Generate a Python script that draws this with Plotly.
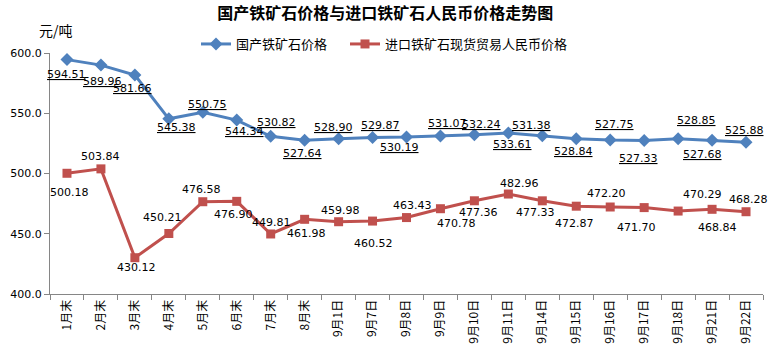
import plotly.graph_objects as go

categories = ["1月末", "2月末", "3月末", "4月末", "5月末", "6月末", "7月末", "8月末",
              "9月1日", "9月7日", "9月8日", "9月9日", "9月10日", "9月11日", "9月14日",
              "9月15日", "9月16日", "9月17日", "9月18日", "9月21日", "9月22日"]
domestic = [594.51, 589.96, 581.66, 545.38, 550.75, 544.34, 530.82, 527.64, 528.90, 529.87,
            530.19, 531.07, 532.24, 533.61, 531.38, 528.84, 527.75, 527.33, 528.85, 527.68, 525.88]
imported = [500.18, 503.84, 430.12, 450.21, 476.58, 476.90, 449.81, 461.98, 459.98, 460.52,
            463.43, 470.78, 477.36, 482.96, 477.33, 472.87, 472.20, 471.70, 468.84, 470.29, 468.28]
series_names = ["国产铁矿石价格", "进口铁矿石现货贸易人民币价格"]
y_ticks = [400, 450, 500, 550, 600]

# label offsets in pixels (dx right, dy down), as placed in the original chart
dom_dx = [0, 2, -2, 8, 5, 8, 6, -2, -5, 8, -7, 7, 7, 4, -11, -3, 4, -6, 18, -10, -2]
dom_dy = [15, 16, 13, 9, -8, 11, -14, 13, -11, -12, 10, -13, -10, 11, -10, 13, -16, 18, -18, 14, -12]
imp_dx = [3, 0, 2, -6, -1, -3, 1, 2, 2, 1, 6, 16, 4, 11, -7, -2, -4, -8, 39, -10, 2]
imp_dy = [19, -12, 10, -16, -12, 13, -11, 14, -11, 22, -12, 15, 12, -11, 12, 17, -14, 20, 16, -15, -12]

label_font = dict(family="DejaVu Sans", size=11, color="#000000")

fig = go.Figure()
fig.add_trace(go.Scatter(
    x=categories, y=domestic, name=series_names[0], mode="lines+markers",
    line=dict(color="#4F81BD", width=3),
    marker=dict(symbol="diamond", size=10, color="#4F81BD"),
    legend="legend",
))
fig.add_trace(go.Scatter(
    x=categories, y=imported, name=series_names[1], mode="lines+markers",
    line=dict(color="#C0504D", width=3),
    marker=dict(symbol="square", size=9, color="#C0504D"),
    legend="legend2",
))

annotations = [dict(text="元/吨", xref="paper", yref="paper", x=-0.018, y=1.095,
                    xanchor="left", yanchor="middle", showarrow=False,
                    font=dict(family="Noto Sans CJK SC", size=14, color="#000000"))]
for c, v, dx, dy in zip(categories, domestic, dom_dx, dom_dy):
    annotations.append(dict(x=c, y=v, text="<u>%.2f</u>" % v, showarrow=False,
                            xanchor="center", yanchor="middle", xshift=dx, yshift=-dy,
                            font=label_font))
for c, v, dx, dy in zip(categories, imported, imp_dx, imp_dy):
    annotations.append(dict(x=c, y=v, text="%.2f" % v, showarrow=False,
                            xanchor="center", yanchor="middle", xshift=dx, yshift=-dy,
                            font=label_font))

leg_font = dict(family="Noto Sans CJK SC", size=13, color="#000000")
fig.update_layout(
    width=775, height=356,
    margin=dict(l=50, r=12, t=53, b=62, autoexpand=False),
    paper_bgcolor="white", plot_bgcolor="white",
    title=dict(text="<b>国产铁矿石价格与进口铁矿石人民币价格走势图</b>",
               xref="container", yref="container",
               x=0.497, xanchor="center", y=1 - 13 / 356, yanchor="middle",
               font=dict(family="Noto Sans CJK SC", size=16, color="#000000")),
    legend=dict(orientation="h", xref="container", yref="container",
                x=196 / 775, xanchor="left", y=1 - 44 / 356, yanchor="middle",
                font=leg_font, bgcolor="rgba(0,0,0,0)"),
    legend2=dict(orientation="h", xref="container", yref="container",
                 x=345 / 775, xanchor="left", y=1 - 44 / 356, yanchor="middle",
                 font=leg_font, bgcolor="rgba(0,0,0,0)"),
    showlegend=True,
    annotations=annotations,
)
fig.update_xaxes(
    type="category", range=[-0.5, len(categories) - 0.5], tickangle=-90,
    showgrid=False, showline=True, linecolor="#868686",
    linewidth=1, ticks="outside", tickson="boundaries", ticklen=5, tickcolor="#868686",
    automargin=False,
    tickfont=dict(family="Noto Sans CJK SC", size=12, color="#000000"),
)
fig.update_yaxes(
    range=[400, 600], tickvals=y_ticks, ticktext=["%.1f" % v for v in y_ticks],
    showgrid=False, showline=True, linecolor="#868686", linewidth=1, ticks="outside",
    ticklen=5, tickcolor="#868686", zeroline=False, automargin=False,
    tickfont=dict(family="DejaVu Sans", size=11, color="#000000"),
)

fig.write_html("out.html", config={"displayModeBar": False},
               post_script="document.body.style.margin='0';")
